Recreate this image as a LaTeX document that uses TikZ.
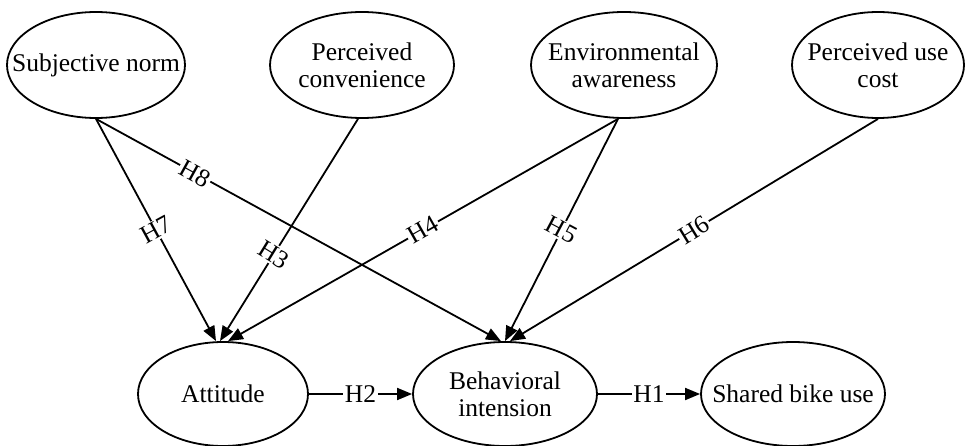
\documentclass[tikz,border=0pt]{standalone}
\usepackage{fontspec}
\setmainfont{Liberation Serif}
\usetikzlibrary{shapes.geometric,arrows.meta}
\begin{document}
\begin{tikzpicture}[x=1pt,y=-1pt,
  latent/.style={ellipse,draw,line width=1.8pt,inner sep=0pt},
  topvar/.style={latent,minimum height=106pt},
  botvar/.style={latent,minimum height=104pt},
  lbl/.style={align=center,inner sep=0pt,font=\fontsize{25.5}{27}\selectfont},
  link/.style={line width=1.8pt,-{Triangle[length=15pt,width=12pt]}},
  hyp/.style={fill=white,inner sep=1.5pt,font=\fontsize{25.5}{27}\selectfont}]
\useasboundingbox (0,0) rectangle (966,446);
\node[topvar,minimum width=178pt] (sn) at (96,65) {};
\node[topvar,minimum width=184pt] (pc) at (362,65) {};
\node[topvar,minimum width=186pt] (ea) at (624,65) {};
\node[topvar,minimum width=172pt] (puc) at (878,65) {};
\node[botvar,minimum width=170pt] (att) at (223,394) {};
\node[botvar,minimum width=184pt] (bi) at (505,394) {};
\node[botvar,minimum width=184pt] (sbu) at (793,394) {};
\node[lbl] (snt) at (sn) {Subjective norm};
\node[lbl] (pct) at (pc) {Perceived\\convenience};
\node[lbl] (eat) at (ea) {Environmental\\awareness};
\node[lbl] (puct) at (puc) {Perceived use\\cost};
\node[lbl] (attt) at (att) {Attitude};
\node[lbl] (bit) at (bi) {Behavioral\\intension};
\node[lbl] (sbut) at (sbu) {Shared bike use};
\draw[link] (sn.south) -- node[hyp,pos=0.5,rotate=28.6]{H7} ([xshift=-7pt]att.north);
\draw[link] ([xshift=-4pt]pc.south) -- node[hyp,pos=0.61,rotate=-31.6]{H3} ([xshift=-3pt]att.north);
\draw[link] ([xshift=-6pt]ea.south) -- node[hyp,pos=0.5,rotate=29.6]{H4} ([xshift=5pt]att.north);
\draw[link] (sn.south) -- node[hyp,pos=0.245,rotate=-29]{H8} ([xshift=-4pt]bi.north);
\draw[link] ([xshift=-6pt]ea.south) -- node[hyp,pos=0.5,rotate=-28]{H5} (bi.north);
\draw[link] (puc.south) -- node[hyp,pos=0.5,rotate=31.5]{H6} ([xshift=5pt]bi.north);
\draw[link] (att.east) -- node[hyp]{H2} (bi.west);
\draw[link] (bi.east) -- node[hyp]{H1} (sbu.west);
\end{tikzpicture}
\end{document}
